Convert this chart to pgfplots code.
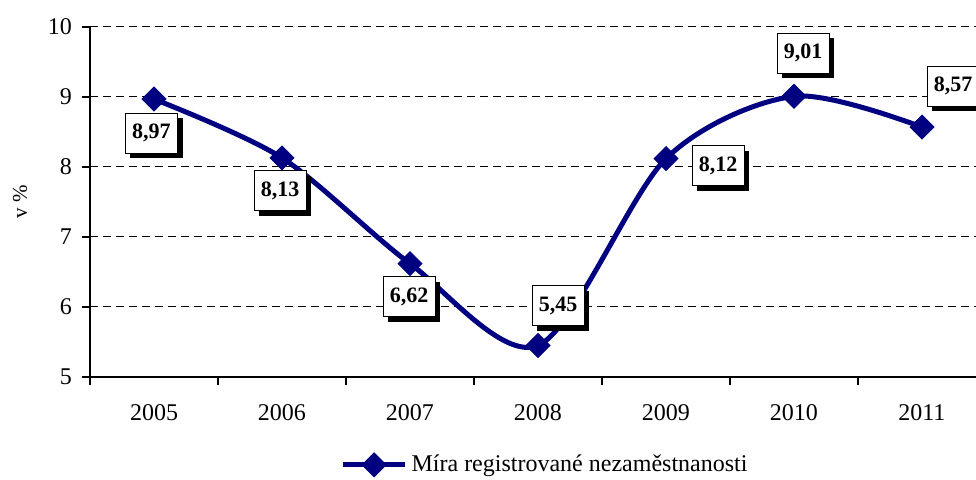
\documentclass[border=0pt]{standalone}
\usepackage{fontspec}
\setmainfont{Liberation Serif}
\usepackage{pgfplots}
\pgfplotsset{compat=1.18}
\usetikzlibrary{calc,shadows}
\definecolor{Navy}{HTML}{000080}

\begin{document}
\begin{tikzpicture}[
  lbl/.style={draw=black, line width=0.5pt, fill=white,
    font=\fontsize{11}{13}\selectfont\bfseries,
    minimum width=26pt, minimum height=20pt, inner sep=1pt,
    drop shadow={fill=black, opacity=1, shadow xshift=2.5pt, shadow yshift=-2.5pt}},
]
\begin{axis}[
  x=64pt, y=35pt,
  xmin=2004.5, xmax=2011.5, ymin=5, ymax=10,
  axis x line*=bottom, axis y line*=left,
  axis line style={black, line width=0.6pt},
  tick align=outside,
  major tick length=4pt, minor tick length=4pt,
  xtick={2005,...,2011},
  minor xtick={2004.5,2005.5,...,2011.5},
  major x tick style={draw=none},
  minor x tick style={black, line width=0.6pt},
  ytick={5,...,10},
  ytick style={black, line width=0.6pt},
  ymajorgrids,
  major grid style={black, line width=0.5pt, dash pattern=on 4pt off 2.5pt},
  tick label style={font=\fontsize{12}{14}\selectfont},
  /pgf/number format/assume math mode=true,
  xticklabel style={/pgf/number format/1000 sep={}, yshift=-6pt},
  yticklabel style={xshift=-1.5pt},
  ylabel={v \%},
  ylabel style={at={(axis description cs:-0.078,0.5)}, anchor=center,
    font=\fontsize{10.5}{12}\selectfont},
  legend style={draw=none, fill=none, at={(0.509,-0.251)}, anchor=center,
    font=\fontsize{12}{14}\selectfont},
  legend image code/.code={\draw[mark repeat=2,mark phase=2]
    plot coordinates {(0pt,0pt) (15.5pt,0pt) (31pt,0pt)};},
]
\addplot[Navy, line width=2.5pt, smooth, mark=square*, mark size=4.25pt,
  mark options={solid, rotate=45, line width=0.4pt, fill=Navy}]
coordinates {
  (2005,8.97) (2006,8.13) (2007,6.62) (2008,5.45)
  (2009,8.12) (2010,9.01) (2011,8.57)
};
\addlegendentry{Míra registrované nezaměstnanosti}

\node[lbl, xshift=-1.25pt, yshift=-17pt]  at (axis cs:2005,8.97) {8,97};
\node[lbl, xshift=-1pt,    yshift=-16.5pt] at (axis cs:2006,8.13) {8,13};
\node[lbl, xshift=-0.5pt,  yshift=-16.7pt] at (axis cs:2007,6.62) {6,62};
\node[lbl, xshift=10pt,    yshift=19.75pt] at (axis cs:2008,5.45) {5,45};
\node[lbl, xshift=26pt,    yshift=-3.5pt]  at (axis cs:2009,8.12) {8,12};
\node[lbl, xshift=4.5pt,   yshift=21.5pt]  at (axis cs:2010,9.01) {9,01};
\node[lbl, xshift=15.5pt,  yshift=20.5pt]  at (axis cs:2011,8.57) {8,57};

\coordinate (bl) at (rel axis cs:0,0);
\end{axis}
\pgfresetboundingbox
\path[use as bounding box] ($(bl)+(-45pt,-51.5pt)$) rectangle ($(bl)+(443pt,188.5pt)$);
\end{tikzpicture}
\end{document}
